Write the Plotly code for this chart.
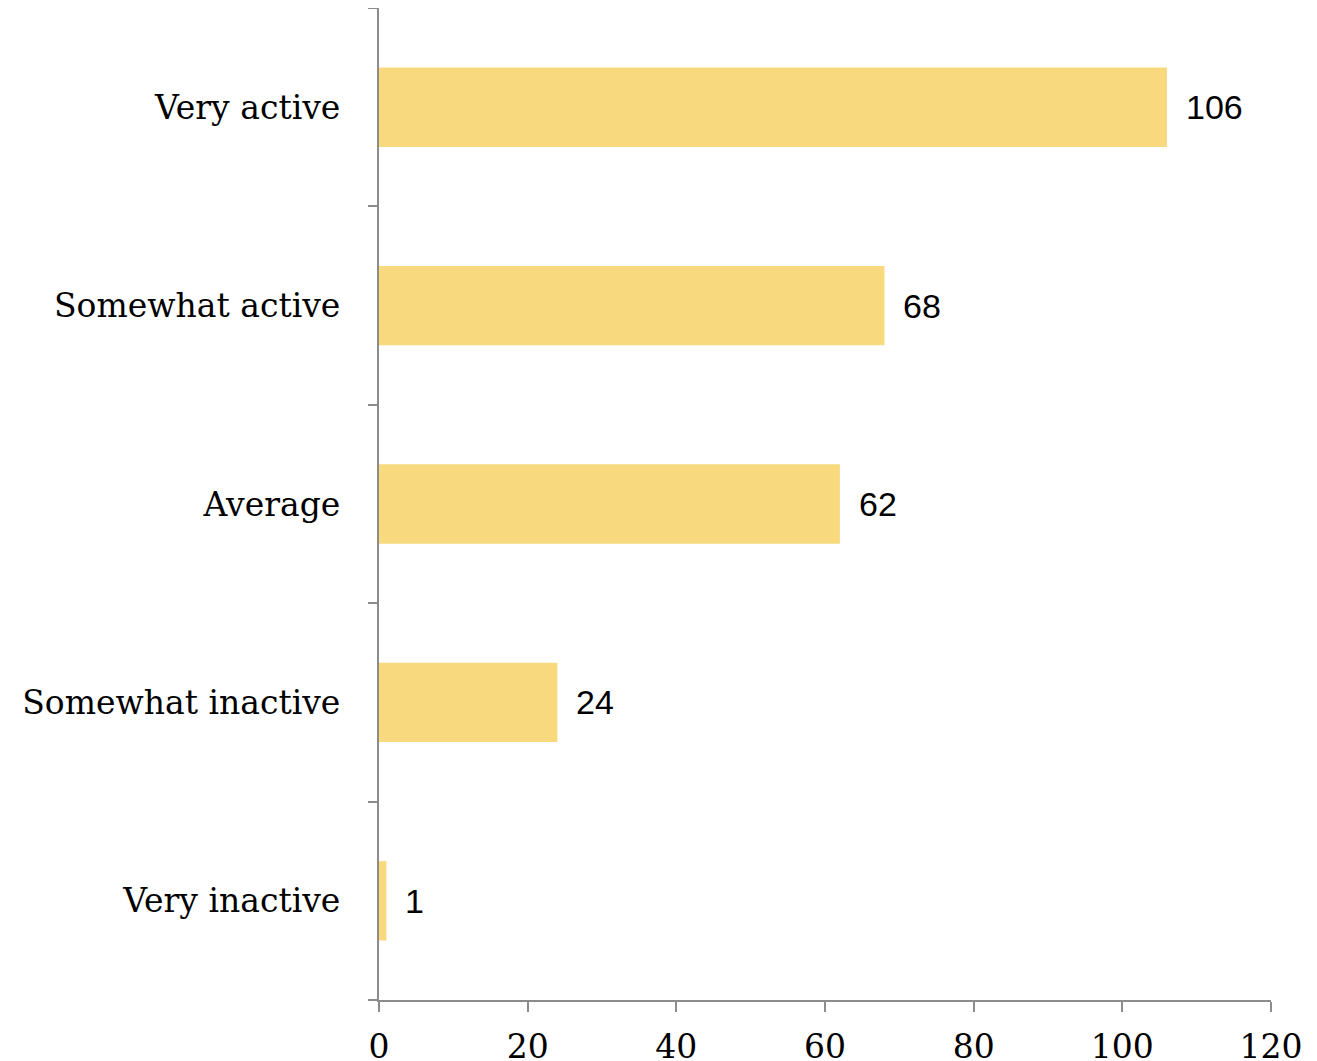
import plotly.graph_objects as go

categories = ["Very active", "Somewhat active", "Average", "Somewhat inactive", "Very inactive"]
values = [106, 68, 62, 24, 1]
x_ticks = [0, 20, 40, 60, 80, 100, 120]

bar_color = "#F9D97E"
axis_color = "#8C8C8C"

fig = go.Figure()
fig.add_trace(go.Bar(
    y=categories, x=values, orientation="h",
    marker=dict(color=bar_color, line=dict(width=0)),
    hoverinfo="x+y",
))

for c, v in zip(categories, values):
    fig.add_annotation(x=v, y=c, text=str(v), showarrow=False,
                       xanchor="left", xshift=17, yshift=0,
                       font=dict(family="Liberation Sans", size=34, color="#000000"))

fig.update_layout(
    width=1317, height=1061,
    margin=dict(l=371, r=54, t=0, b=69),
    paper_bgcolor="white", plot_bgcolor="white",
    bargap=0.6,
    showlegend=False,
    font=dict(family="DejaVu Serif", size=33, color="#000000"),
)
fig.update_xaxes(
    range=[0, 120], tickvals=x_ticks, ticktext=[str(t) for t in x_ticks],
    showgrid=False, zeroline=False,
    showline=True, linecolor=axis_color, linewidth=2,
    ticks="outside", ticklen=10, tickwidth=2, tickcolor=axis_color,
    ticklabelstandoff=6,
    tickfont=dict(family="DejaVu Serif", size=33, color="#000000"),
)
fig.update_yaxes(
    categoryorder="array", categoryarray=categories[::-1],
    showgrid=False, zeroline=False,
    showline=True, linecolor=axis_color, linewidth=2,
    ticks="outside", ticklen=9, tickwidth=2, tickcolor=axis_color,
    tickson="boundaries", ticklabelstandoff=30,
    tickfont=dict(family="DejaVu Serif", size=33, color="#000000"),
)

fig.write_html("out.html")
